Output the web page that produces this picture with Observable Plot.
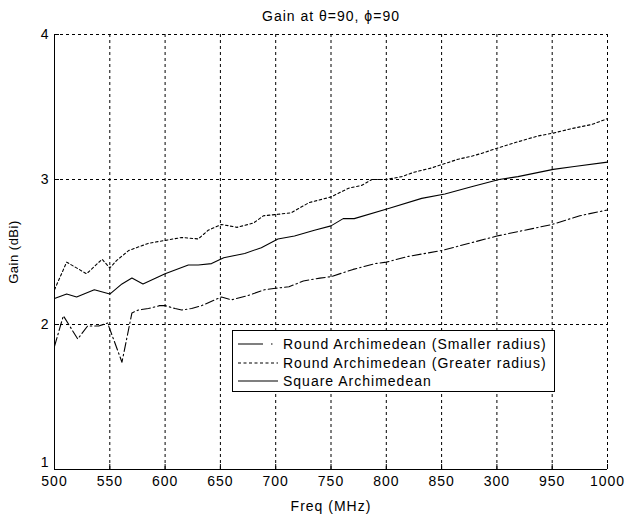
<!DOCTYPE html>
<html><head><meta charset="utf-8">
<script src="https://cdn.jsdelivr.net/npm/d3@7"></script>
<script src="https://cdn.jsdelivr.net/npm/@observablehq/plot@0.6"></script>
<style>
body{margin:0;background:#fff;font-family:"Liberation Sans",Arial,sans-serif;}
#wrap{position:relative;width:632px;height:521px;}
#legend{position:absolute;left:232px;top:330px;width:321px;height:60px;border:1px solid #000;background:#fff;font-size:14px;letter-spacing:1px;}
.row{position:absolute;left:0;height:18px;line-height:18px;white-space:nowrap;}
.row svg{position:absolute;left:5px;top:3px;}
.row span{position:absolute;left:50px;top:0;}
</style></head><body><div id="wrap"></div>
<script>
const titleText = "Gain at \u03B8=90, \u03D5=90";
const xLabel = "Freq (MHz)";
const yLabel = "Gain (dBi)";
const xTicks = [500, 550, 600, 650, 700, 750, 800, 850, 900, 950, 1000];
const xTickLabels = ["500", "550", "600", "650", "700", "750", "800", "850", "300", "950", "1000"];
const yTicks = [1, 2, 3, 4];

const seriesNames = ["Round Archimedean (Smaller radius)", "Round Archimedean (Greater radius)", "Square Archimedean"];
const seriesDash = ["9,3,1.5,3", "2.5,2.5", null];
const legendDash = ["25,8,1.5,100", "3,2.5", null];

const freqSmaller = [500, 508, 521, 530, 540, 548, 561, 570, 576, 585, 595, 600, 609, 615, 624, 633, 651, 660, 675, 690, 700, 712, 725, 740, 750, 770, 790, 800, 820, 850, 875, 900, 925, 950, 975, 1000];
const gainSmaller = [1.85, 2.06, 1.90, 1.99, 1.99, 2.01, 1.74, 2.08, 2.10, 2.11, 2.13, 2.13, 2.11, 2.10, 2.11, 2.13, 2.19, 2.17, 2.20, 2.24, 2.25, 2.26, 2.30, 2.32, 2.33, 2.38, 2.42, 2.43, 2.47, 2.51, 2.56, 2.61, 2.65, 2.69, 2.75, 2.79];

const freqGreater = [500, 511, 529, 543, 550, 556, 567, 585, 600, 615, 630, 639, 651, 665, 680, 689, 702, 714, 730, 750, 766, 778, 787, 800, 814, 825, 841, 853, 865, 877, 886, 902, 919, 937, 951, 967, 986, 1000];
const gainGreater = [2.24, 2.43, 2.35, 2.45, 2.39, 2.44, 2.51, 2.56, 2.58, 2.60, 2.59, 2.65, 2.69, 2.67, 2.70, 2.75, 2.76, 2.77, 2.84, 2.88, 2.94, 2.96, 3.00, 3.00, 3.02, 3.05, 3.08, 3.11, 3.14, 3.16, 3.18, 3.22, 3.26, 3.30, 3.32, 3.35, 3.38, 3.42];

const freqSquare = [500, 511, 520, 536, 550, 561, 570, 580, 600, 621, 630, 642, 653, 672, 687, 702, 717, 735, 750, 761, 771, 802, 832, 853, 877, 902, 919, 951, 970, 1000];
const gainSquare = [2.18, 2.21, 2.19, 2.24, 2.21, 2.28, 2.32, 2.28, 2.35, 2.41, 2.41, 2.42, 2.46, 2.49, 2.53, 2.59, 2.61, 2.65, 2.68, 2.73, 2.73, 2.80, 2.87, 2.90, 2.95, 3.00, 3.02, 3.07, 3.09, 3.12];

const toRows = (fs, gs) => fs.map((f, i) => ({f, g: gs[i]}));
const dataSmaller = toRows(freqSmaller, gainSmaller);
const dataGreater = toRows(freqGreater, gainGreater);
const dataSquare = toRows(freqSquare, gainSquare);

const W = 632, H = 521, mT = 34, mB = 52, mL = 54, mR = 25;
const frameH = H - mT - mB, frameW = W - mL - mR;
const tickLen = 5;

const plot = Plot.plot({
  width: W, height: H,
  marginTop: mT, marginBottom: mB, marginLeft: mL, marginRight: mR,
  style: {fontFamily: '"Liberation Sans", Arial, sans-serif', fontSize: "14px", letterSpacing: "1px", background: "#fff", color: "#000"},
  x: {domain: [500, 1000]},
  y: {domain: [1, 4]},
  marks: [
    Plot.gridX(xTicks, {stroke: "#000", strokeOpacity: 1, strokeDasharray: "3,3", strokeWidth: 1}),
    Plot.gridY(yTicks, {stroke: "#000", strokeOpacity: 1, strokeDasharray: "3,3", strokeWidth: 1}),
    Plot.ruleX(xTicks, {x: d => d, stroke: "#000", insetTop: frameH - tickLen}),
    Plot.ruleY(yTicks, {y: d => d, stroke: "#000", insetRight: frameW - tickLen}),
    Plot.ruleX([500], {stroke: "#000"}),
    Plot.ruleY([1], {stroke: "#000"}),
    Plot.axisX(xTicks, {tickSize: 0, tickPadding: 7, tickFormat: d => xTickLabels[xTicks.indexOf(d)], fontSize: 14,
      label: xLabel, labelAnchor: "center", labelArrow: "none", labelOffset: 41}),
    Plot.axisY(yTicks.slice(1), {tickSize: 0, tickPadding: 5, tickFormat: d => String(d), fontSize: 14,
      label: yLabel, labelAnchor: "center", labelArrow: "none", labelOffset: 46}),
    Plot.axisY(yTicks.slice(0, 1), {tickSize: 0, tickPadding: 5, tickFormat: d => String(d), fontSize: 14, dy: -7, label: null}),
    Plot.line(dataSmaller, {x: "f", y: "g", stroke: "#000", strokeWidth: 1.1, strokeDasharray: seriesDash[0]}),
    Plot.line(dataGreater, {x: "f", y: "g", stroke: "#000", strokeWidth: 1.1, strokeDasharray: seriesDash[1]}),
    Plot.line(dataSquare, {x: "f", y: "g", stroke: "#000", strokeWidth: 1.1}),
    Plot.text([titleText], {frameAnchor: "top", dy: -23, fontSize: 14, fill: "#000"})
  ]
});
// y-axis label slightly smaller, as in the reference
plot.querySelectorAll('[aria-label="y-axis label"] text').forEach(t => { t.setAttribute("font-size", "13"); t.style.letterSpacing = "0.5px"; });
const wrap = document.getElementById("wrap");
wrap.appendChild(plot);

const legend = document.createElement("div");
legend.id = "legend";
seriesNames.forEach((name, i) => {
  const row = document.createElement("div");
  row.className = "row";
  row.style.top = (4 + i * 18.5) + "px";
  const dash = legendDash[i] || "none";
  row.innerHTML = `<svg width="42" height="12"><line x1="0" y1="6" x2="40" y2="6" stroke="#000" stroke-width="1.1" stroke-dasharray="${dash}"/></svg><span>${name}</span>`;
  legend.appendChild(row);
});
wrap.appendChild(legend);
</script></body></html>
